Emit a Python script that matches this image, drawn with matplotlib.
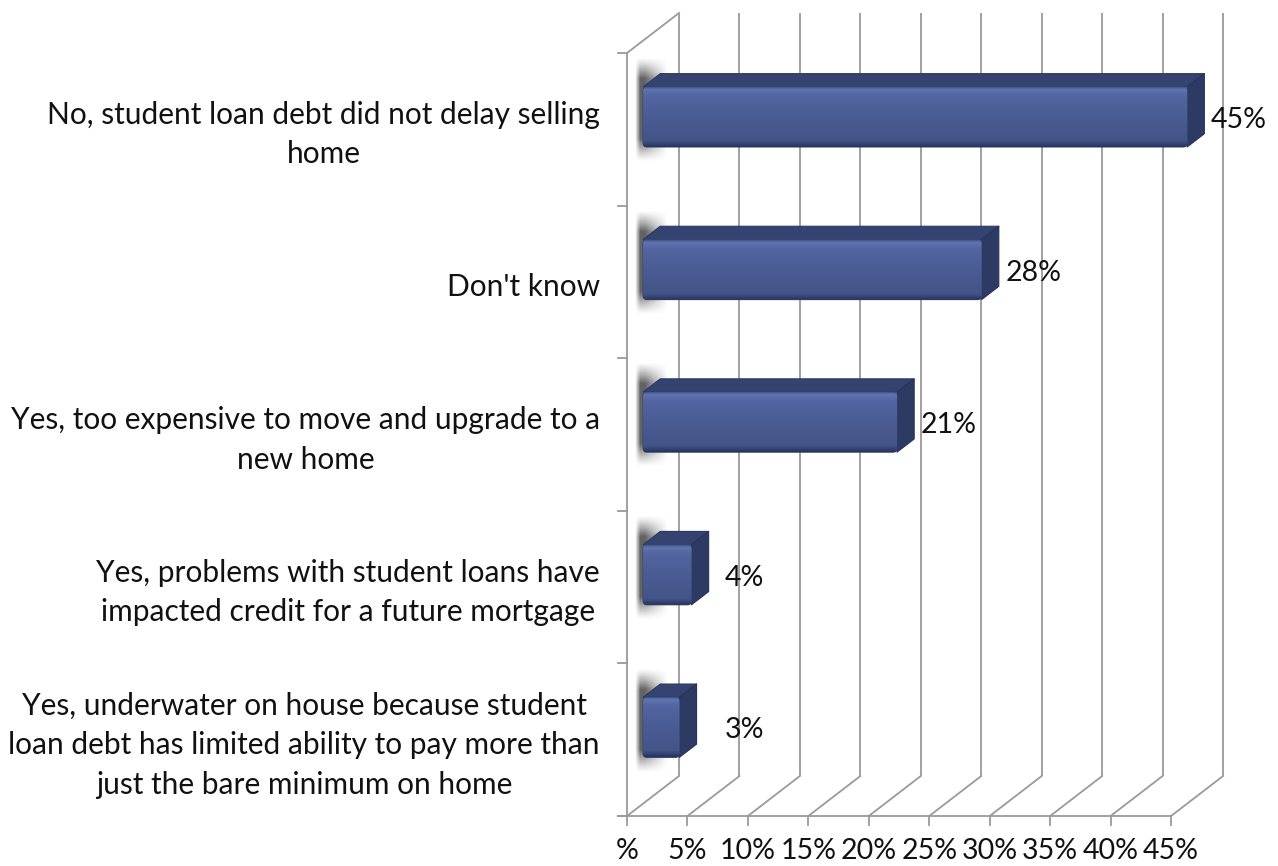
import numpy as np
import matplotlib
matplotlib.use("Agg")
import matplotlib.pyplot as plt
from matplotlib.patches import Polygon, FancyBboxPatch

# ---- data -------------------------------------------------------------
categories = [
    "No, student loan debt did not delay selling\nhome",
    "Don't know",
    "Yes, too expensive to move and upgrade to a\nnew home",
    "Yes, problems with student loans have\nimpacted credit for a future mortgage",
    "Yes, underwater on house because student\nloan debt has limited ability to pay more than\njust the bare minimum on home",
]
values = [45, 28, 21, 4, 3]
value_labels = ["45%", "28%", "21%", "4%", "3%"]
tick_values = [0, 5, 10, 15, 20, 25, 30, 35, 40, 45]
tick_labels = ["%", "5%", "10%", "15%", "20%", "25%", "30%", "35%", "40%", "45%"]

# ---- figure / coordinate system ---------------------------------------
plt.rcParams['font.family'] = ['Lato', 'DejaVu Sans']

W, H = 1278, 866
fig = plt.figure(figsize=(W / 100, H / 100), dpi=100)
ax = fig.add_axes([0, 0, 1, 1])
ax.axis('off')

X0_PX, PX_PER_PCT = 627, 12.09     # front plane: 0% position and scale
Y0_PX, PX_PER_CAT = 53, 152.6      # front plane: top edge and slot height
ax.set_xlim(-X0_PX / PX_PER_PCT, (W - X0_PX) / PX_PER_PCT)
ax.set_ylim((H - Y0_PX) / PX_PER_CAT, -Y0_PX / PX_PER_CAT)

DX = 52 / PX_PER_PCT               # full depth offset (x, data units)
DY = 40 / PX_PER_CAT               # full depth offset (y, data units, upward)
n = len(categories)
xmax = tick_values[-1]

GRID = '#9a9a9a'
LW = 1.3
TXT = '#111111'

# ---- walls, floor and axes --------------------------------------------
for t in tick_values:
    ax.plot([t + DX, t + DX], [-DY, n - DY], color=GRID, lw=LW, zorder=1,
            solid_capstyle='butt')
    ax.plot([t, t + DX], [n, n - DY], color=GRID, lw=LW, zorder=1)

# left wall
ax.plot([0, 0], [0, n], color=GRID, lw=LW, zorder=2)
ax.plot([0, DX], [0, -DY], color=GRID, lw=LW, zorder=2)
tick_len_x = 9 / PX_PER_PCT
tick_len_y = 9 / PX_PER_CAT
for k in range(n + 1):
    ax.plot([-tick_len_x, 0], [k, k], color=GRID, lw=LW, zorder=2)

# floor front edge with ticks
ax.plot([-tick_len_x, xmax], [n, n], color=GRID, lw=LW, zorder=2)
for t, lab in zip(tick_values, tick_labels):
    ax.plot([t, t], [n, n + tick_len_y], color=GRID, lw=LW, zorder=2)
    ax.text(t, (851 - Y0_PX) / PX_PER_CAT, lab, ha='center', va='center',
            fontsize=20.5, color=TXT)

# ---- bars -------------------------------------------------------------
D0, D1 = 0.31, 0.64          # bar depth range (fraction of full depth)
HALF = 0.197                 # half bar height on the category scale


def vertical_gradient(stops, rows=80):
    pos = np.array([s[0] for s in stops])
    cols = np.array([s[1] for s in stops], dtype=float) / 255.0
    t = np.linspace(0, 1, rows)
    rgb = np.stack([np.interp(t, pos, cols[:, j]) for j in range(3)], axis=1)
    return rgb[:, None, :]


front_grad = vertical_gradient([
    (0.00, (58, 73, 124)),
    (0.05, (96, 116, 176)),
    (0.16, (82, 101, 160)),
    (0.55, (73, 91, 146)),
    (0.90, (67, 84, 136)),
    (1.00, (40, 52, 92)),
])


def shadow_image(rows=90, cols=40):
    yy = np.linspace(0, 1, rows)[:, None]
    xx = np.linspace(0, 1, cols)[None, :]
    vert = np.clip(np.minimum(yy / 0.2, (1 - yy) / 0.22), 0, 1) ** 1.2
    horiz = np.clip(np.minimum(xx / 0.15, (1 - xx) / 0.7), 0, 1)
    a = 0.85 * vert * horiz
    img = np.zeros((rows, cols, 4))
    img[..., :3] = 0.28
    img[..., 3] = a
    return img


shadow = shadow_image()

for i, (v, lab) in enumerate(zip(values, value_labels)):
    c0 = i + 0.5 - HALF
    c1 = i + 0.5 + HALF
    fx0, fx1 = D0 * DX, v + D0 * DX
    ft, fb = c0 - D0 * DY, c1 - D0 * DY
    bx1 = v + D1 * DX
    bt, bb = c0 - D1 * DY, c1 - D1 * DY

    # soft shadow on the left wall behind the bar end
    ax.imshow(shadow, extent=(0.7, 3.4, fb + 0.1, ft - 0.19),
              aspect='auto', interpolation='bilinear', zorder=3)

    top = Polygon([(fx0, ft), (fx1, ft), (bx1, bt), (D1 * DX, bt)],
                  closed=True, facecolor='#34436f', edgecolor='#2c3a62',
                  lw=0.8, zorder=5, joinstyle='round')
    side = Polygon([(fx1, ft), (bx1, bt), (bx1, bb), (fx1, fb)],
                   closed=True, facecolor='#2d3b64', edgecolor='#26335a',
                   lw=0.8, zorder=5, joinstyle='round')
    ax.add_patch(top)
    ax.add_patch(side)

    rx = 4 / PX_PER_PCT
    ry = 4 / PX_PER_CAT
    face = FancyBboxPatch((fx0, ft), fx1 - fx0, fb - ft,
                          boxstyle=f"round,pad=0,rounding_size={rx}",
                          mutation_aspect=ry / rx,
                          facecolor='#4a5c94', edgecolor='#34436f',
                          lw=0.8, zorder=6)
    ax.add_patch(face)
    im = ax.imshow(front_grad, extent=(fx0, fx1, fb, ft), aspect='auto',
                   interpolation='bilinear', zorder=6.5)
    im.set_clip_path(face)

    # value label
    ax.text(max(v + 5.6, 9.75), (ft + fb) / 2 + 0.02, lab, ha='center',
            va='center', fontsize=20.5, color=TXT, zorder=8)

# ---- category labels ---------------------------------------------------
for i, name in enumerate(categories):
    ax.text((600 - X0_PX) / PX_PER_PCT, i + 0.5 + 0.035, name, ha='right',
            va='center', multialignment='center', fontsize=21.5,
            color=TXT, linespacing=1.5)

ax.set_xlim(-X0_PX / PX_PER_PCT, (W - X0_PX) / PX_PER_PCT)
ax.set_ylim((H - Y0_PX) / PX_PER_CAT, -Y0_PX / PX_PER_CAT)

fig.savefig('out.png', dpi=100, facecolor='white')
